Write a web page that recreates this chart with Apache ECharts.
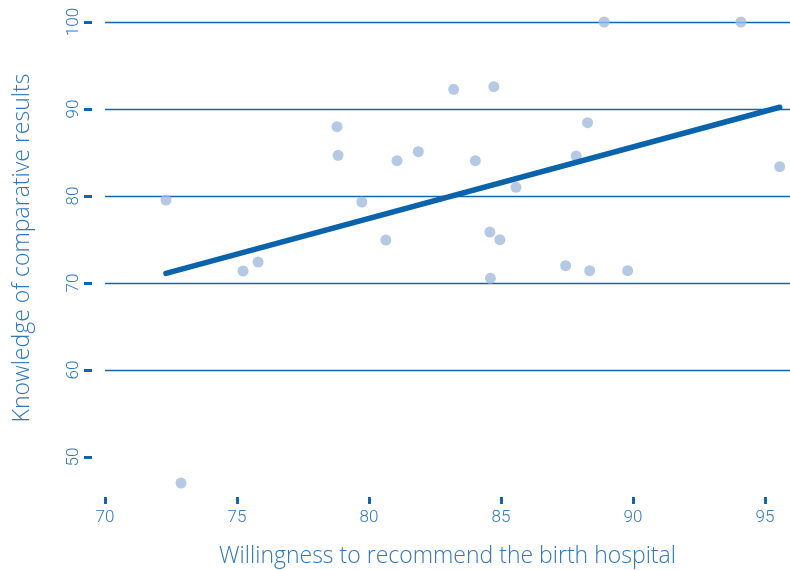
<!DOCTYPE html>
<html>
<head>
<meta charset="utf-8">
<script src="https://cdn.jsdelivr.net/npm/echarts@6/dist/echarts.min.js"></script>
<style>
  html, body { margin: 0; padding: 0; background: #ffffff; }
  #chart { width: 790px; height: 570px; }
</style>
</head>
<body>
<div id="chart"></div>
<script>
// Hospitals: willingness to recommend (x) vs knowledge of comparative results (y)
const willingness = [72.31, 72.88, 75.23, 75.80, 78.79, 78.83, 79.73, 80.64, 81.06, 81.87,
                     83.21, 84.73, 84.03, 85.57, 84.58, 84.96, 84.60, 87.45, 88.36, 89.80,
                     87.85, 88.28, 88.91, 94.09, 95.56];
const knowledge   = [79.54, 47.0, 71.38, 72.41, 87.97, 84.67, 79.31, 74.94, 84.06, 85.09,
                     92.26, 92.56, 84.06, 81.0, 75.86, 74.98, 70.54, 71.99, 71.41, 71.41,
                     84.60, 88.43, 100, 100, 83.37];
// Fitted trend line end points
const trendX = [72.31, 95.56];
const trendY = [71.1, 90.2];
// Axis tick labels
const xTicks = [70, 75, 80, 85, 90, 95];
const yTicks = [50, 60, 70, 80, 90, 100];

const dark = '#1166b0';
const textBlue = '#2f78bd';
const font = 'Open Sans';

const points = willingness.map((x, i) => [x, knowledge[i]]);
const trend = trendX.map((x, i) => [x, trendY[i]]);

const chart = echarts.init(document.getElementById('chart'), null, { renderer: 'canvas' });
chart.setOption({
  animation: false,
  grid: { left: 105, right: 0, top: 22, bottom: 26, containLabel: false, outerBoundsMode: 'none' },
  xAxis: {
    type: 'value',
    min: 70,
    max: 95.95,
    offset: -47,
    name: 'Willingness to recommend the birth hospital',
    nameLocation: 'middle',
    nameGap: 48,
    nameTextStyle: { color: textBlue, fontFamily: font, fontSize: 23, fontWeight: 300 },
    axisLine: { show: false },
    axisTick: { show: true, customValues: xTicks, length: 7, lineStyle: { color: dark, width: 3 } },
    axisLabel: { customValues: xTicks, color: textBlue, fontFamily: 'Roboto', fontSize: 17, fontWeight: 300, margin: 12 },
    splitLine: { show: false }
  },
  yAxis: {
    type: 'value',
    min: 40,
    max: 100,
    interval: 10,
    offset: 13,
    name: 'Knowledge of comparative results',
    nameLocation: 'middle',
    nameGap: 58,
    nameTextStyle: { color: textBlue, fontFamily: font, fontSize: 23, fontWeight: 300, padding: [0, 0, 0, 70] },
    axisLine: { show: false },
    axisTick: { show: true, customValues: yTicks, length: 8, lineStyle: { color: dark, width: 3 } },
    axisLabel: { customValues: yTicks, rotate: 90, color: textBlue, fontFamily: 'Roboto', fontSize: 17, fontWeight: 300, margin: 10 },
    splitLine: {
      show: true,
      lineStyle: { color: ['rgba(0,0,0,0)', dark, dark, dark, dark, dark, dark], width: 1.3 }
    }
  },
  series: [
    {
      type: 'scatter',
      data: points,
      symbol: 'circle',
      symbolSize: 11,
      itemStyle: { color: '#a3bbdf' },
      z: 3
    },
    {
      type: 'line',
      data: trend,
      symbol: 'none',
      lineStyle: { color: '#0a63ab', width: 5.5, cap: 'round' },
      z: 4
    }
  ]
});
</script>
</body>
</html>
